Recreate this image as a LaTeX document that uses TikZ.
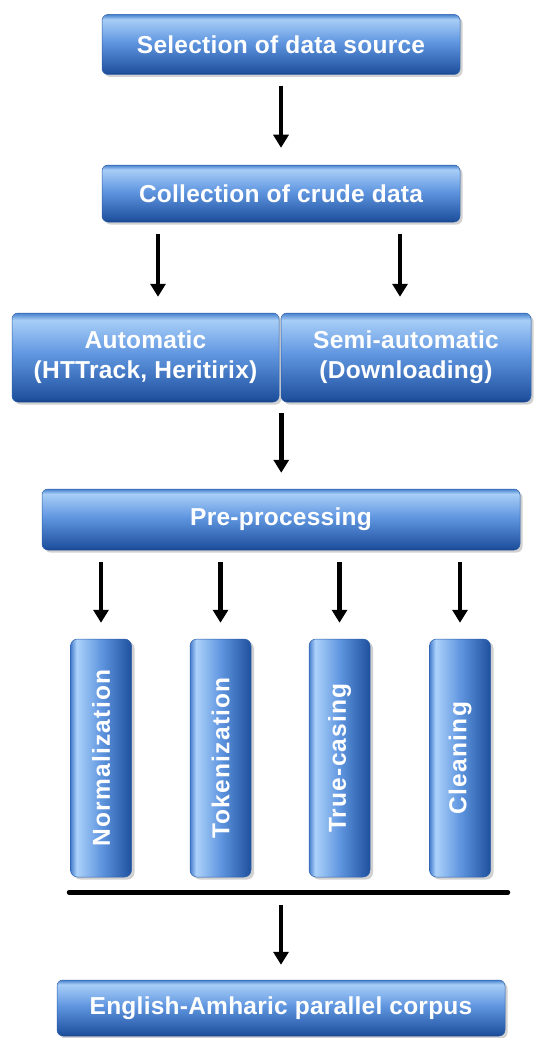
\documentclass[tikz,border=0pt]{standalone}
\usepackage{fontspec}
\setmainfont{Liberation Sans}
\usetikzlibrary{arrows.meta,shadows,calc}
\definecolor{hedge}{RGB}{70,128,205}
\definecolor{htop}{RGB}{168,206,247}
\definecolor{hmid}{RGB}{96,150,224}
\definecolor{hbot}{RGB}{32,82,160}
\definecolor{hbotedge}{RGB}{22,62,130}
\definecolor{vedge}{RGB}{70,125,205}
\definecolor{vlight}{RGB}{172,210,250}
\definecolor{vdark}{RGB}{30,80,158}
\definecolor{boxline}{RGB}{45,95,170}
\pgfdeclareverticalshading{hbarshade}{100bp}{color(0bp)=(hbotedge); color(25bp)=(hbotedge); color(27bp)=(hbot); color(52bp)=(hmid); color(71bp)=(htop); color(75bp)=(hedge); color(100bp)=(hedge)}
\pgfdeclarehorizontalshading{vbarshade}{100bp}{color(0bp)=(vedge); color(25bp)=(vedge); color(30bp)=(vlight); color(50bp)=(hmid); color(75bp)=(vdark); color(100bp)=(vdark)}
\tikzset{
  hbox/.style={rounded corners=6pt, shading=hbarshade, draw=boxline, line width=0.5pt,
    drop shadow={shadow xshift=2.5pt, shadow yshift=-2.5pt, opacity=0.18, fill=black},
    text=white, font=\fontsize{24.5}{30}\selectfont\bfseries\addfontfeature{LetterSpace=1}, align=center, inner sep=0pt},
  vbox/.style={rounded corners=7pt, shading=vbarshade, draw=boxline, line width=0.5pt,
    drop shadow={shadow xshift=3pt, shadow yshift=-2.5pt, opacity=0.18, fill=black},
    text=white, font=\fontsize{24.5}{30}\selectfont\bfseries\addfontfeature{LetterSpace=5}, inner sep=0pt,
    minimum width=61pt, minimum height=238pt},
  arr/.style={line width=4.5pt, -{Triangle[width=15pt,length=13pt]}, black},
}
\begin{document}
\begin{tikzpicture}[x=1pt,y=-1pt]
\useasboundingbox (0,0) rectangle (543,1038);
\node[hbox, minimum width=358pt, minimum height=60pt] (b1) at (281,44.5) {Selection of data source};
\node[hbox, minimum width=358pt, minimum height=57pt] (b2) at (281,193.5) {Collection of crude data};
\node[hbox, minimum width=267pt, minimum height=89pt] (b3a) at (145.5,357.5) {Automatic\\(HTTrack, Heritirix)};
\node[hbox, minimum width=250pt, minimum height=89pt] (b3b) at (406,357.5) {Semi-automatic\\(Downloading)};
\node[hbox, minimum width=478pt, minimum height=61pt] (pre) at (281,519.5) {Pre-processing};
\node[vbox] (v1) at (101,758) {\rotatebox{90}{Normalization}};
\node[vbox] (v2) at (220.5,758) {\rotatebox{90}{Tokenization}};
\node[vbox] (v3) at (339.5,758) {\rotatebox{90}{True-casing}};
\node[vbox] (v4) at (460,758) {\rotatebox{90}{Cleaning}};
\node[hbox, minimum width=448pt, minimum height=56pt] (fin) at (281,1008) {English-Amharic parallel corpus};
\coordinate (barL) at ($(v1.south west)+(-1,15)$);
\coordinate (barR) at ($(v4.south east)+(17,15)$);
\coordinate (barM) at (281,892);
\draw[line width=5pt, line cap=round] (barL) -- (barR);
\draw[arr, shorten <=11pt, shorten >=17pt] (b1.south) -- (b2.north);
\draw[arr, shorten <=12pt, shorten >=16pt] ([xshift=-123pt]b2.south) -- ([xshift=-123pt]b2.south |- b3a.north);
\draw[arr, shorten <=12pt, shorten >=16pt] ([xshift=119pt]b2.south) -- ([xshift=119pt]b2.south |- b3b.north);
\draw[arr, shorten <=11pt, shorten >=16pt] ([xshift=2pt]b3a.south east) -- ([xshift=2pt]b3a.south east |- pre.north);
\foreach \v in {v1,v2,v3,v4}{
  \draw[arr, shorten <=12pt, shorten >=16pt] (\v.north |- pre.south) -- (\v.north);
}
\draw[arr, shorten <=13pt, shorten >=15pt] (barM) -- (fin.north);
\end{tikzpicture}
\end{document}
